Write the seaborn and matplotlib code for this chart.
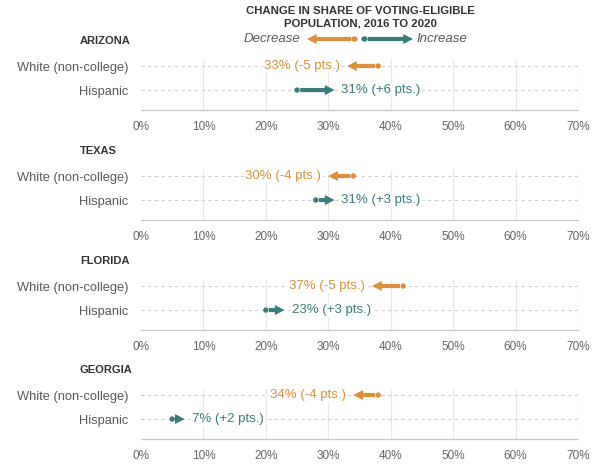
import matplotlib
matplotlib.use("Agg")
import matplotlib.pyplot as plt
from matplotlib.patches import FancyArrowPatch, Circle
import seaborn as sns
import pandas as pd
import numpy as np

states = ["ARIZONA", "TEXAS", "FLORIDA", "GEORGIA"]
groups = ["White (non-college)", "Hispanic"]
share_2016_white = [38, 34, 42, 38]
share_2020_white = [33, 30, 37, 34]
share_2016_hisp = [25, 28, 20, 5]
share_2020_hisp = [31, 31, 23, 7]
x_ticks = [0, 10, 20, 30, 40, 50, 60, 70]
x_tick_labels = ["0%", "10%", "20%", "30%", "40%", "50%", "60%", "70%"]
title_lines = "CHANGE IN SHARE OF VOTING-ELIGIBLE\nPOPULATION, 2016 TO 2020"

ORANGE = "#DC8F3C"
TEAL = "#3A7C78"
GRAY_TXT = "#5a5a5a"
ARROW = "simple,head_length=0.7,head_width=0.72,tail_width=0.3"
MS = 10

sns.set_theme(style="white")
plt.rcParams['font.family'] = ['Liberation Sans', 'DejaVu Sans']

rows = []
for i, st in enumerate(states):
    rows.append(dict(state=st, group=groups[0], y=0, start=share_2016_white[i], end=share_2020_white[i]))
    rows.append(dict(state=st, group=groups[1], y=1, start=share_2016_hisp[i], end=share_2020_hisp[i]))
df = pd.DataFrame(rows)

fig = plt.figure(figsize=(6, 4.7), dpi=100)
W, H = 600, 470
left = 141 / W
width = (578 - 141) / W
axis_px = [110, 220, 330, 439]
ax_h = 50 / H

for i, st in enumerate(states):
    ax = fig.add_axes([left, 1 - axis_px[i] / H, width, ax_h])
    sub = df[df.state == st]
    ax.set_xlim(0, 70)
    ax.set_ylim(1.83, -0.25)
    for xt in x_ticks[1:]:
        ax.axvline(xt, color="#e8e8e8", lw=0.9, zorder=0)
    for yy in [0, 1]:
        ax.axhline(yy, color="#d0d0d0", lw=0.8, ls=(0, (3, 3)), zorder=0)
    for _, r in sub.iterrows():
        color = ORANGE if r.y == 0 else TEAL
        direction = np.sign(r.end - r.start)
        ax.annotate("", xy=(r.end, r.y), xytext=(r.start + direction * 0.5, r.y),
                    arrowprops=dict(arrowstyle=ARROW, mutation_scale=MS,
                                    lw=0, color=color, shrinkA=0, shrinkB=0),
                    zorder=3)
        diff = r.end - r.start
        label = f"{r.end}% ({'+' if diff > 0 else '-'}{abs(diff)} pts.)"
        off = -5 if diff < 0 else 5
        ax.annotate(label, xy=(r.end, r.y), xytext=(off, 0), textcoords="offset points",
                    ha="right" if diff < 0 else "left", va="center", color=color, fontsize=9.5,
                    bbox=dict(boxstyle="square,pad=0.1", fc="white", ec="none"), zorder=4)
    sns.scatterplot(data=sub, x="start", y="y", hue="group", palette=[ORANGE, TEAL],
                    s=15, edgecolor="none", legend=False, ax=ax, zorder=5)
    ax.set_xticks(x_ticks)
    ax.set_xticklabels(x_tick_labels, fontsize=8.5, color="#666666")
    ax.set_yticks([0, 1])
    ax.set_yticklabels(groups, fontsize=9.3, color=GRAY_TXT)
    ax.tick_params(axis="y", length=0, pad=9)
    ax.tick_params(axis="x", length=5, color="#c8c8c8", width=0.9, pad=3)
    ax.set_xlabel("")
    ax.set_ylabel("")
    for s in ["top", "right", "left"]:
        ax.spines[s].set_visible(False)
    ax.spines["bottom"].set_color("#c8c8c8")
    ax.spines["bottom"].set_linewidth(0.9)
    for t, xt in zip(ax.xaxis.get_major_ticks(), x_ticks):
        if xt not in (0, 70):
            t.tick1line.set_visible(False)
    fig.text(80 / W, 1 - (axis_px[i] - 69) / H, st, fontsize=8, fontweight="bold",
             color="#333333", ha="left", va="center")

# title and legend
fig.text(360 / W, 1 - 17 / H, title_lines, ha="center", va="center", fontsize=8.2,
         fontweight="bold", color="#333333", linespacing=1.3)
ly = 1 - 39 / H
fig.text(300 / W, ly, "Decrease", ha="right", va="center", fontsize=9.5,
         style="italic", color=GRAY_TXT)
fig.text(416 / W, ly, "Increase", ha="left", va="center", fontsize=9.5,
         style="italic", color=GRAY_TXT)
fig.add_artist(FancyArrowPatch((351 / W, ly), (307 / W, ly), transform=fig.transFigure,
               arrowstyle=ARROW, mutation_scale=MS, lw=0, color=ORANGE, shrinkA=0, shrinkB=0))
fig.add_artist(FancyArrowPatch((368 / W, ly), (413 / W, ly), transform=fig.transFigure,
               arrowstyle=ARROW, mutation_scale=MS, lw=0, color=TEAL, shrinkA=0, shrinkB=0))
fig.add_artist(Circle((354.5 / W, ly), 2.5 / W, color=ORANGE, transform=fig.transFigure))
fig.add_artist(Circle((364.5 / W, ly), 2.5 / W, color=TEAL, transform=fig.transFigure))

fig.savefig("out.png", dpi=100, facecolor="white")
